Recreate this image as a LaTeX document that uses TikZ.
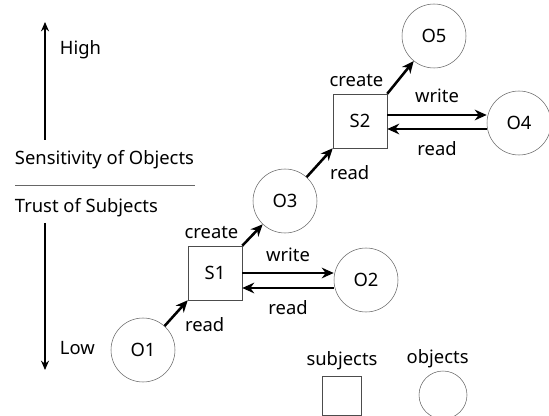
\documentclass[tikz,border=0pt]{standalone}
\usepackage{fontspec}
\setmainfont{Noto Sans}
\usetikzlibrary{positioning, arrows.meta, calc}

\begin{document}
\begin{tikzpicture}[x=0.75pt, y=-0.75pt,
        every node/.style={font=\fontsize{13.8}{16}\selectfont},
        subj/.style={draw=black!70, minimum size=40.5pt, inner sep=0pt},
        obj/.style={draw=black!60, circle, minimum size=48pt, inner sep=0pt},
        flow/.style={-{Stealth[length=9pt, width=8pt]}, line width=1.9pt},
        axis/.style={-{Stealth[length=7pt, width=6pt]}, line width=1.4pt},
        lbl/.style={inner sep=2pt}]
    \useasboundingbox (0,0) rectangle (549,416);
    % subjects and objects
    \node[subj] (S1) at (215,273) {S1};
    \node[subj] (S2) at (360,121) {S2};
    \foreach \nm/\x/\y in {O1/143/350, O2/366/280, O3/285/201, O4/519/123, O5/434/36}
        \node[obj] (\nm) at (\x,\y) {\nm};

    % read from below, create above
    \draw[flow] (O1) -- (S1.south west) node[lbl, at end, anchor=north west, xshift=-5pt, yshift=-10pt] {read};
    \draw[flow] (S1.north east) -- (O3) node[lbl, at start, anchor=south east, yshift=2.5pt] {create};
    \draw[flow] (O3) -- (S2.south west) node[lbl, at end, anchor=north west, xshift=-5pt, yshift=-10pt] {read};
    \draw[flow] (S2.north east) -- (O5) node[lbl, at start, anchor=south east, yshift=2.5pt] {create};

    % write / read pairs
    \draw[flow] ($(S1.east |- O2)+(0,-7)$) -- ($(O2.west)+(0,-7)$) node[lbl, midway, above=5.5pt] {write};
    \draw[flow] ($(O2.west)+(0,8)$) -- ($(S1.east |- O2)+(0,8)$) node[lbl, midway, below=6.5pt] {read};
    \draw[flow] ($(S2.east |- O4)+(0,-8)$) -- ($(O4.west)+(0,-8)$) node[lbl, midway, above=6pt] {write};
    \draw[flow] ($(O4.west)+(0,6)$) -- ($(S2.east |- O4)+(0,6)$) node[lbl, midway, below=6.5pt] {read};

    % scale on the left
    \node[lbl, anchor=west] (sens) at (12,160) {Sensitivity of Objects};
    \node[lbl, anchor=west] (trust) at (12,208) {Trust of Subjects};
    \draw[black!60] (15,185) -- (195,185);
    \coordinate (hiFrom) at (45,140);
    \coordinate (hi) at (45,22);
    \coordinate (loFrom) at (45,223);
    \coordinate (lo) at (45,370);
    \draw[axis] (hiFrom) -- (hi);
    \draw[axis] (loFrom) -- (lo);
    \node[lbl, anchor=west] (high) at (57,50) {High};
    \node[lbl, anchor=west] (low) at (57,348) {Low};

    % legend
    \node[subj, minimum size=29pt] (keyS) at (342,396) {};
    \node[lbl, above=3pt of keyS] (keySlbl) {subjects};
    \node[obj, minimum size=36pt] (keyO) at (443,395) {};
    \node[lbl, above=0pt of keyO, xshift=-4pt] (keyOlbl) {objects};
\end{tikzpicture}
\end{document}
